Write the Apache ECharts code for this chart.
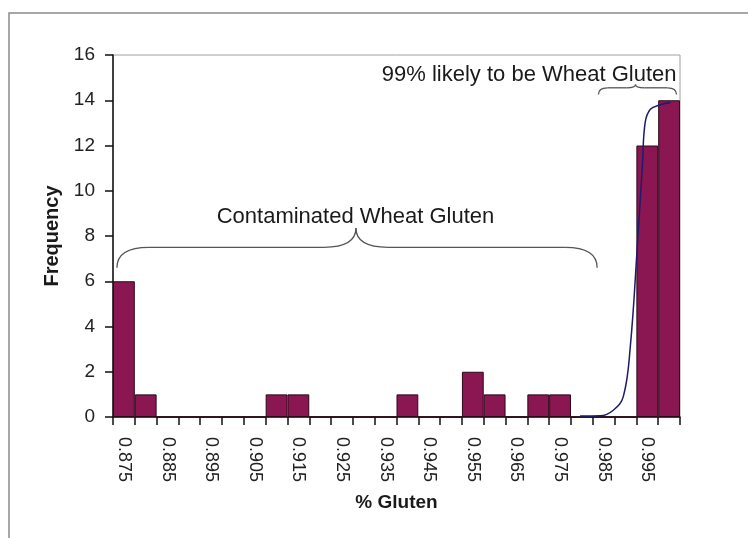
<!DOCTYPE html>
<html>
<head>
<meta charset="utf-8">
<script src="https://cdn.jsdelivr.net/npm/echarts@6/dist/echarts.min.js"></script>
<style>
  html, body { margin: 0; padding: 0; background: #fff; }
  #chart { width: 748px; height: 538px; }
</style>
</head>
<body>
<div id="chart"></div>
<script>
// bins of % gluten (step 0.005)
var categories = ['0.875','0.880','0.885','0.890','0.895','0.900','0.905','0.910','0.915','0.920',
                  '0.925','0.930','0.935','0.940','0.945','0.950','0.955','0.960','0.965','0.970',
                  '0.975','0.980','0.985','0.990','0.995','1.000'];
var frequency = [6, 1, 0, 0, 0, 0, 0, 1, 1, 0,
                 0, 0, 0, 1, 0, 0, 2, 1, 0, 1,
                 1, 0, 0, 0, 12, 14];
// fitted curve
var curveX = [0.9796, 0.9842, 0.9872, 0.9895, 0.9911, 0.9927, 0.9939, 0.9945, 0.9957, 0.9980, 1.0003];
var curveY = [0.04, 0.05, 0.3, 0.9, 3.1, 7.5, 11.2, 13.0, 13.6, 13.8, 13.9];
var yTicks = [0, 2, 4, 6, 8, 10, 12, 14, 16];

var curveData = [];
for (var i = 0; i < curveX.length; i++) {
  curveData.push([curveX[i], curveY[i]]);
}

var myChart = echarts.init(document.getElementById('chart'));
var font = '"Liberation Sans", Arial, sans-serif';

myChart.setOption({
  animation: false,
  backgroundColor: '#fff',
  grid: {
    left: 113, right: 68, top: 55, bottom: 121,
    show: true, borderColor: '#a0a0a0', borderWidth: 1
  },
  xAxis: [{
    type: 'category',
    data: categories,
    name: '% Gluten',
    nameLocation: 'middle',
    nameGap: 76,
    nameTextStyle: { fontFamily: font, fontSize: 19, fontWeight: 'bold', color: '#1a1a1a' },
    axisLine: { lineStyle: { color: '#111', width: 1.5 } },
    axisTick: { show: true, interval: 0, length: 8, lineStyle: { color: '#111', width: 1.5 } },
    axisLabel: {
      interval: 1, rotate: -90, margin: 20,
      fontFamily: font, fontSize: 18, color: '#222'
    }
  }, {
    type: 'value',
    min: 0.8725, max: 1.0025,
    show: false
  }],
  yAxis: {
    type: 'value',
    min: yTicks[0], max: yTicks[yTicks.length - 1], interval: 2,
    name: 'Frequency',
    nameLocation: 'middle',
    nameGap: 50,
    nameTextStyle: { fontFamily: font, fontSize: 20, fontWeight: 'bold', color: '#1a1a1a' },
    axisLine: { show: true, lineStyle: { color: '#111', width: 1.5 } },
    axisTick: { show: true, length: 8, lineStyle: { color: '#111', width: 1.5 } },
    axisLabel: { margin: 18, fontFamily: font, fontSize: 19, color: '#222' },
    splitLine: { show: false }
  },
  series: [{
    type: 'bar',
    data: frequency,
    barCategoryGap: '0%',
    itemStyle: { color: '#8a1752', borderColor: '#2a0818', borderWidth: 1 }
  }, {
    type: 'line',
    xAxisIndex: 1,
    data: curveData,
    smooth: 0.4,
    showSymbol: false,
    lineStyle: { color: '#1c1c6b', width: 1.5 },
    z: 5
  }]
});

// annotation braces, anchored in data space (gluten value, frequency)
var braces = [
  { x1: 0.8734, x2: 0.9835, xm: 0.9282, yEnd: 6.6, yMid: 7.5, yTip: 8.35, r: 32 },
  { x1: 0.9838, x2: 1.0017, xm: 0.9923, yEnd: 14.25, yMid: 14.55, yTip: 14.7, r: 9 }
];
var notes = [
  { text: 'Contaminated Wheat Gluten', x: 0.9281, y: 8.85, align: 'center' },
  { text: '99% likely to be Wheat Gluten', x: 1.0017, y: 15.1, align: 'right' }
];

function px(x, y) {
  return myChart.convertToPixel({ xAxisIndex: 1, yAxisIndex: 0 }, [x, y]);
}

var elements = [];
var braceStyle = { fill: null, stroke: '#555', lineWidth: 1.3 };
function quad(p0, cp, p1) {
  elements.push({
    type: 'bezierCurve',
    shape: { x1: p0[0], y1: p0[1], cpx1: cp[0], cpy1: cp[1], x2: p1[0], y2: p1[1] },
    style: braceStyle, z: 10
  });
}
function seg(p0, p1) {
  elements.push({
    type: 'line',
    shape: { x1: p0[0], y1: p0[1], x2: p1[0], y2: p1[1] },
    style: braceStyle, z: 10
  });
}
braces.forEach(function (b) {
  var a = px(b.x1, b.yEnd), c = px(b.x2, b.yEnd);
  var t = px(b.xm, b.yTip);
  var ym = px(b.xm, b.yMid)[1], r = b.r;
  quad(a, [a[0], ym], [a[0] + r, ym]);
  seg([a[0] + r, ym], [t[0] - r, ym]);
  quad([t[0] - r, ym], [t[0], ym], t);
  quad(t, [t[0], ym], [t[0] + r, ym]);
  seg([t[0] + r, ym], [c[0] - r, ym]);
  quad([c[0] - r, ym], [c[0], ym], c);
});
notes.forEach(function (n) {
  var p = px(n.x, n.y);
  elements.push({
    type: 'text',
    x: p[0], y: p[1],
    style: {
      text: n.text, fill: '#1a1a1a', font: '22px ' + font,
      textAlign: n.align, textVerticalAlign: 'middle'
    },
    z: 10
  });
});
// outer frame of the figure
elements.push({
  type: 'polyline',
  shape: { points: [[9, 538], [9, 13], [748, 13]] },
  style: { fill: null, stroke: '#8a8a8a', lineWidth: 1.5 },
  z: 1
});

myChart.setOption({ graphic: elements });
window.addEventListener('resize', myChart.resize);
</script>
</body>
</html>
